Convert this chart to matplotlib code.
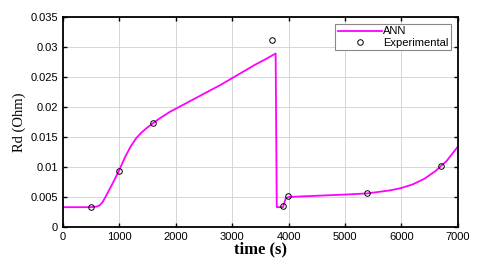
import matplotlib
matplotlib.use("Agg")
import matplotlib.pyplot as plt

# ANN model output
ann_time = [0, 300, 500, 600, 650, 700, 750, 800, 900, 1000, 1100, 1200, 1300,
            1400, 1500, 1600, 1700, 1800, 1900, 2000, 2200, 2400, 2600, 2800,
            3000, 3200, 3400, 3600, 3770,
            3790, 3900, 3950, 4000, 4500, 5000, 5400, 5800, 6000, 6200,
            6400, 6600, 6800, 7000]
ann_rd = [0.0033, 0.0033, 0.0033, 0.0034, 0.0036, 0.0041, 0.0049, 0.0058, 0.0076,
          0.0095, 0.0116, 0.0134, 0.0148, 0.0158, 0.0166, 0.0173, 0.0180, 0.0186,
          0.0192, 0.0197, 0.0207, 0.0217, 0.0227, 0.0237, 0.0248, 0.0259,
          0.0270, 0.0280, 0.0289,
          0.0033, 0.0033, 0.0048, 0.0050, 0.0052, 0.0054, 0.0056, 0.0061,
          0.0065, 0.0071, 0.0080, 0.0093, 0.0110, 0.0134]

# experimental measurements
exp_time = [500, 1000, 1600, 3700, 3895, 3985, 5390, 6700]
exp_rd = [0.0034, 0.0094, 0.0173, 0.0311, 0.0035, 0.0052, 0.0057, 0.0102]

fig = plt.figure(figsize=(4.8, 2.6), dpi=100)
ax = fig.add_axes([0.131, 0.127, 0.823, 0.808])

ax.plot(ann_time, ann_rd, color='magenta', linewidth=1.3, label='ANN')
ax.plot(exp_time, exp_rd, 'o', markerfacecolor='none', markeredgecolor='black',
        markersize=4, markeredgewidth=0.7, label='Experimental')

ax.set_xlim(0, 7000)
ax.set_ylim(0, 0.035)
ax.set_xticks(range(0, 7001, 1000))
ax.set_yticks([0, 0.005, 0.01, 0.015, 0.02, 0.025, 0.03, 0.035])
ax.set_yticklabels(['0', '0.005', '0.01', '0.015', '0.02', '0.025', '0.03', '0.035'])

for lbl in ax.get_xticklabels() + ax.get_yticklabels():
    lbl.set_fontfamily('Liberation Sans')
ax.tick_params(direction='in', top=True, right=True, labelsize=8, length=3, width=1)

for spine in ax.spines.values():
    spine.set_linewidth(1.3)

ax.grid(True, color='#d0d0d0', linewidth=0.6)

ax.set_xlabel('time (s)', fontfamily='Liberation Serif', fontsize=12,
              fontweight='bold', labelpad=0)
ax.set_ylabel('Rd (Ohm)', fontfamily='Liberation Serif', fontsize=10.5, labelpad=3)

leg = ax.legend(loc='upper right', bbox_to_anchor=(0.982, 0.965),
                prop={'family': 'Liberation Sans', 'size': 8}, fancybox=False,
                edgecolor='#888888', framealpha=1, borderpad=0.2,
                labelspacing=0.1, handlelength=4.0, handletextpad=0.1,
                borderaxespad=0)
leg.get_frame().set_linewidth(0.8)

plt.savefig('out.png', dpi=100)
